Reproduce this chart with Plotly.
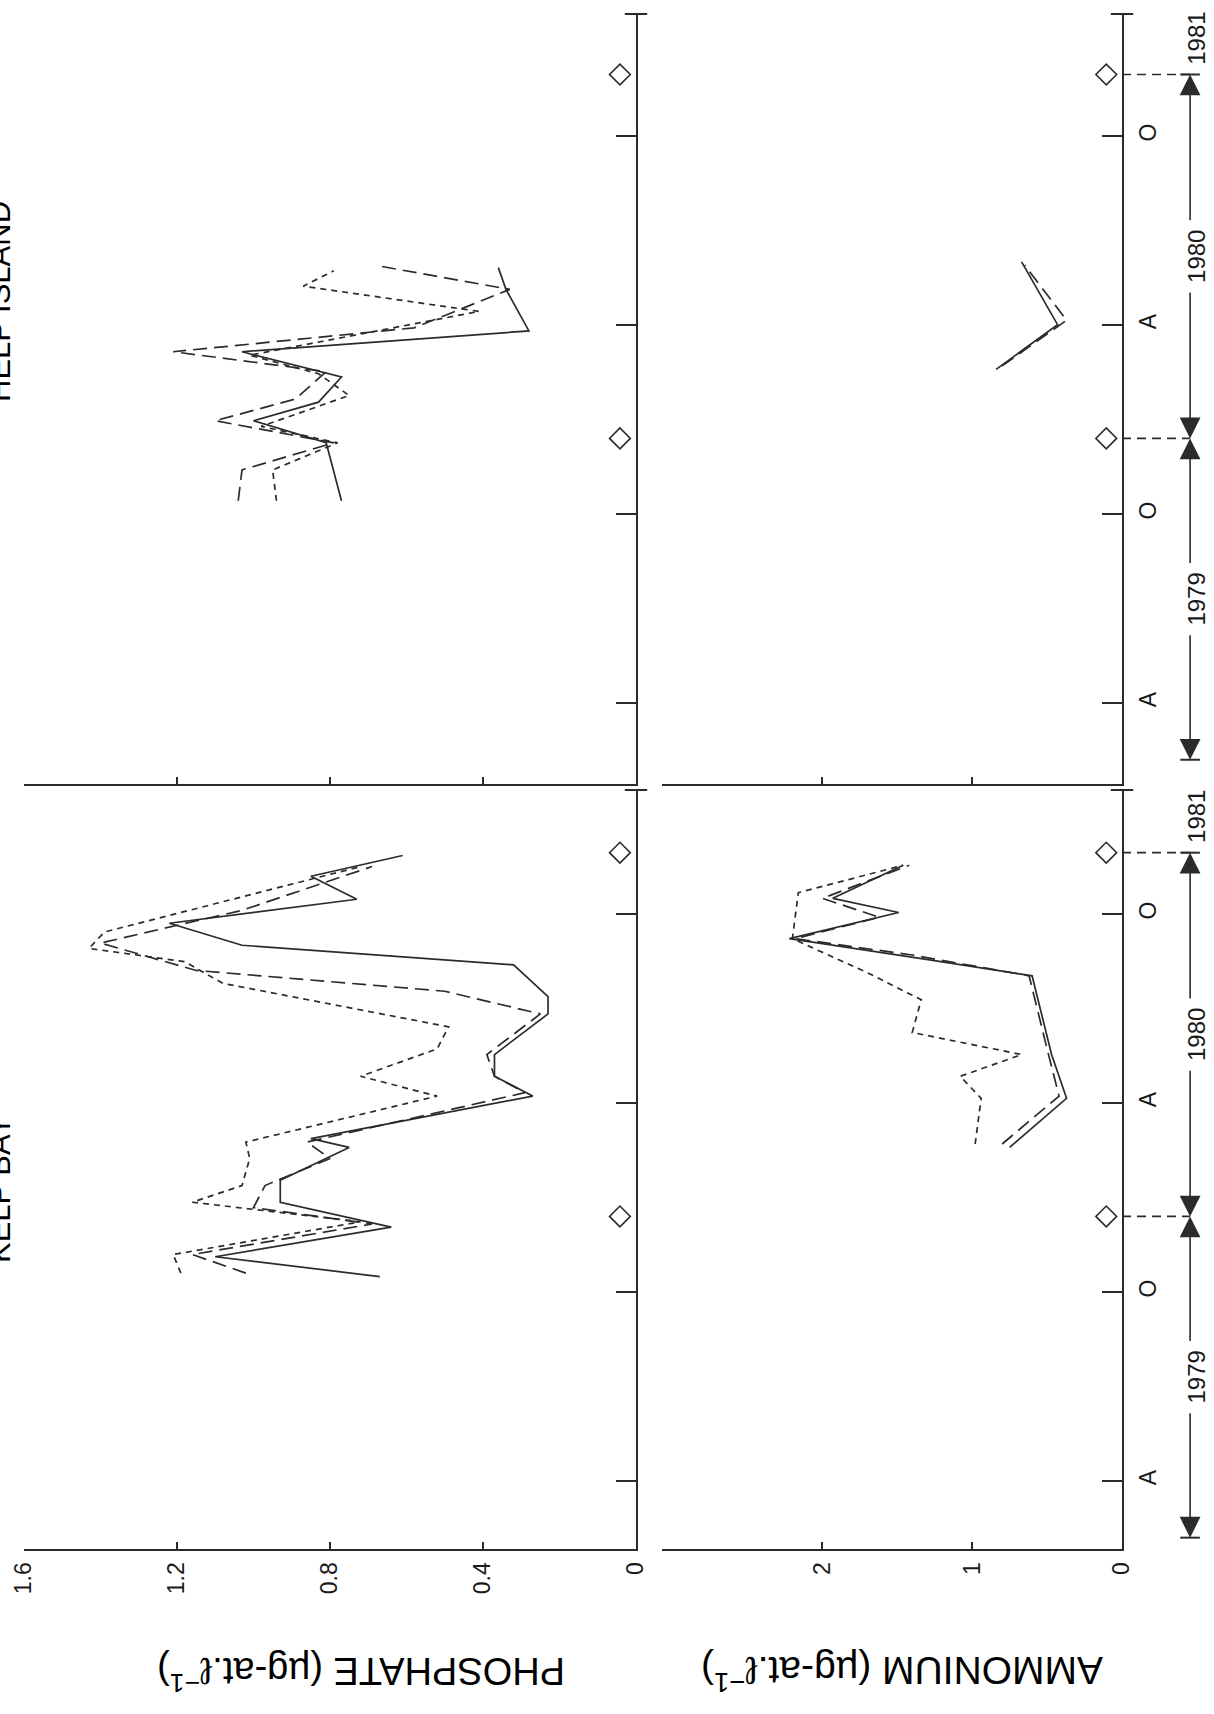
import plotly.graph_objects as go

W, H = 1214, 1714

# ---------------- data (time in months from 1 Jan 1979) ----------------
MONTH_TICKS = [3, 9, 15, 21]
MONTH_LABELS = ["A", "O", "A", "O"]
YEAR_BOUNDS = [1.2, 11.4, 22.95]
YEAR_NAMES = ["1979", "1980", "1981"]
DIAMOND_TIMES = [11.4, 22.95]
PHOS_TICKS = [0, 0.4, 0.8, 1.2, 1.6]
PHOS_TICKTEXT = ["0", "0.4", "0.8", "1.2", "1.6"]
AMM_TICKS = [0, 1, 2]
AMM_TICKTEXT = ["0", "1", "2"]

# upper station - phosphate
hi_p_solid_t = [9.42, 11.26, 11.96, 12.55, 13.35, 14.15, 14.81, 16.13, 16.82]
hi_p_solid_v = [0.77, 0.81, 1.00, 0.83, 0.77, 1.03, 0.28, 0.34, 0.36]
hi_p_long_t = [9.42, 10.40, 11.26, 11.96, 12.65, 13.52, 14.15, 14.91, 16.13, 16.89]
hi_p_long_v = [1.04, 1.03, 0.79, 1.10, 0.89, 0.81, 1.21, 0.58, 0.33, 0.68]
hi_p_short_t = [9.42, 10.40, 11.26, 11.78, 12.76, 13.45, 14.04, 15.43, 16.23, 16.72]
hi_p_short_v = [0.94, 0.95, 0.78, 0.98, 0.75, 0.83, 1.01, 0.41, 0.87, 0.79]

# upper station - ammonium
hi_a_solid_t = [13.59, 15.01, 17.0]
hi_a_solid_v = [0.84, 0.43, 0.67]
hi_a_long_t = [13.70, 15.15, 16.9]
hi_a_long_v = [0.80, 0.37, 0.65]

# KELP BAY - phosphate
kb_p_solid_t = [9.49, 10.12, 11.06, 11.85, 12.55, 13.59, 13.87, 15.22, 15.85, 16.54,
                17.83, 18.38, 19.39, 20.01, 20.71, 21.47, 22.20, 22.86]
kb_p_solid_v = [0.67, 1.10, 0.64, 0.93, 0.93, 0.75, 0.85, 0.27, 0.37, 0.37,
                0.23, 0.23, 0.32, 1.03, 1.22, 0.73, 0.85, 0.61]
kb_p_long_t = [9.60, 10.19, 11.16, 11.68, 12.38, 13.24, 13.76, 15.33, 15.85, 16.54,
               17.83, 18.55, 19.21, 20.08, 21.12, 22.51]
kb_p_long_v = [1.02, 1.16, 0.69, 1.00, 0.97, 0.80, 0.86, 0.29, 0.37, 0.39,
               0.25, 0.50, 1.15, 1.40, 1.03, 0.69]
kb_p_short_t = [9.60, 10.19, 11.23, 11.85, 12.38, 13.24, 13.76, 15.22, 15.85, 16.72,
                17.42, 18.80, 19.49, 19.91, 20.43, 21.05, 22.51]
kb_p_short_v = [1.19, 1.21, 0.72, 1.16, 1.03, 1.01, 1.02, 0.52, 0.72, 0.52,
                0.49, 1.08, 1.18, 1.43, 1.39, 1.19, 0.72]

# KELP BAY - ammonium
kb_a_solid_t = [13.59, 15.15, 16.54, 19.04, 19.60, 20.22, 21.05, 21.50, 22.55]
kb_a_solid_v = [0.75, 0.37, 0.47, 0.60, 1.36, 2.22, 1.49, 1.93, 1.46]
kb_a_long_t = [13.70, 15.22, 16.72, 19.04, 19.70, 20.22, 20.90, 21.50, 22.55]
kb_a_long_v = [0.80, 0.42, 0.50, 0.62, 1.40, 2.18, 1.62, 2.00, 1.42]
kb_a_short_t = [13.70, 15.15, 15.85, 16.54, 17.24, 18.28, 19.14, 20.22, 21.68, 22.55]
kb_a_short_v = [0.98, 0.94, 1.08, 0.67, 1.40, 1.34, 1.70, 2.20, 2.16, 1.46]

STATIONS = ["HELP ISLAND", "KELP BAY"]

# ---------------- styling ----------------
INK = "#2b2b2b"
FONT = "Liberation Sans, Arial, Helvetica, sans-serif"
LW = 1.7
AXW = 2.0
DASH = {"solid": "solid", "long": "14px,7px", "short": "6px,5px"}


def px(xp):
    return xp / W


def py(yp):
    return 1 - yp / H


rows = [
    dict(bottom=784, top=14, trange=[0.43, 24.87], labels=False,
         phos=[(hi_p_solid_t, hi_p_solid_v, "solid"), (hi_p_long_t, hi_p_long_v, "long"),
               (hi_p_short_t, hi_p_short_v, "short")],
         amm=[(hi_a_solid_t, hi_a_solid_v, "solid"), (hi_a_long_t, hi_a_long_v, "long")]),
    dict(bottom=1549, top=790, trange=[0.84, 24.94], labels=True,
         phos=[(kb_p_solid_t, kb_p_solid_v, "solid"), (kb_p_long_t, kb_p_long_v, "long"),
               (kb_p_short_t, kb_p_short_v, "short")],
         amm=[(kb_a_solid_t, kb_a_solid_v, "solid"), (kb_a_long_t, kb_a_long_v, "long"),
              (kb_a_short_t, kb_a_short_v, "short")]),
]

PHOS_DOM = [px(24), px(636)]
AMM_DOM = [px(662), px(1122)]
STRIP_DOM = [px(1122), 1.0]
PHOS_RANGE = [1.6, 0]
AMM_RANGE = [3.07, 0]
ARROW_X = 0.74

fig = go.Figure()
layout = dict(width=W, height=H, margin=dict(l=0, r=0, t=0, b=0, pad=0, autoexpand=False),
              paper_bgcolor="white", plot_bgcolor="rgba(0,0,0,0)",
              showlegend=False, font=dict(family=FONT, color=INK))
annotations = []

tickfont = dict(family=FONT, size=23, color="#1a1a1a")

for ri, row in enumerate(rows):
    base = ri * 5
    ids = [base + k + 1 for k in range(5)]  # phos, amm, strip, phos-overlay, amm-overlay
    nm = lambda i: "" if i == 1 else str(i)
    ydom = [py(row["bottom"]), py(row["top"])]
    for k, (dom, rng, tv, tt, data) in enumerate([
            (PHOS_DOM, PHOS_RANGE, PHOS_TICKS, PHOS_TICKTEXT, row["phos"]),
            (AMM_DOM, AMM_RANGE, AMM_TICKS + [AMM_RANGE[0]], AMM_TICKTEXT + [""], row["amm"])]):
        i = ids[k]
        ov = ids[3 + k]
        layout["xaxis" + nm(i)] = dict(
            domain=dom, range=rng, anchor="y" + nm(i), side="bottom", automargin=False,
            showline=True, linecolor=INK, linewidth=AXW, ticks="inside", ticklen=7,
            tickwidth=AXW, tickcolor=INK, tickvals=tv, ticktext=tt,
            showticklabels=row["labels"], tickangle=-90, tickfont=tickfont,
            ticklabelstandoff=2, showgrid=False, zeroline=False, fixedrange=True)
        layout["xaxis" + nm(ov)] = dict(
            overlaying="x" + nm(i), anchor="y" + nm(i), side="bottom", range=rng,
            automargin=False, showline=False, ticks="outside", ticklen=7, tickwidth=AXW,
            tickcolor=INK, tickvals=tv, showticklabels=False, showgrid=False, zeroline=False)
        layout["yaxis" + nm(i)] = dict(
            domain=ydom, range=row["trange"], anchor="x" + nm(i), side="right",
            automargin=False, showline=True, linecolor=INK, linewidth=AXW, ticks="inside",
            ticklen=20, tickwidth=AXW, tickcolor=INK, tickvals=MONTH_TICKS,
            ticktext=MONTH_LABELS, showticklabels=(k == 1), tickangle=-90,
            tickfont=tickfont, ticklabelstandoff=4, showgrid=False, zeroline=False,
            fixedrange=True)
        for (tt_, vv_, st) in data:
            fig.add_trace(go.Scatter(x=vv_, y=tt_, mode="lines",
                                     line=dict(color=INK, width=LW, dash=DASH[st]),
                                     xaxis="x" + nm(i), yaxis="y" + nm(i),
                                     hoverinfo="skip"))
        # diamonds marking year boundaries
        dx = 0.042 if k == 0 else 0.105
        fig.add_trace(go.Scatter(x=[dx] * len(DIAMOND_TIMES), y=DIAMOND_TIMES, mode="markers",
                                 marker=dict(symbol="diamond-open", size=16, color=INK,
                                             line=dict(color=INK, width=1.6)),
                                 cliponaxis=False, xaxis="x" + nm(i), yaxis="y" + nm(i)))
        # cap at the top of the time axis
        fig.add_trace(go.Scatter(x=[0], y=[row["trange"][1]], mode="markers",
                                 marker=dict(symbol="line-ew-open", size=16, color=INK,
                                             line=dict(color=INK, width=AXW)),
                                 cliponaxis=False, xaxis="x" + nm(i), yaxis="y" + nm(i)))

    # strip with year arrows
    s = ids[2]
    layout["xaxis" + nm(s)] = dict(domain=STRIP_DOM, range=[0, 1], anchor="y" + nm(s),
                                   visible=False, fixedrange=True)
    layout["yaxis" + nm(s)] = dict(domain=ydom, range=row["trange"], anchor="x" + nm(s),
                                   visible=False, fixedrange=True)
    xr, yr = "x" + nm(s), "y" + nm(s)
    for T in DIAMOND_TIMES:
        fig.add_trace(go.Scatter(x=[0, ARROW_X], y=[T, T], mode="lines",
                                 line=dict(color=INK, width=LW, dash="9px,6px"),
                                 xaxis=xr, yaxis=yr, hoverinfo="skip"))
    fig.add_trace(go.Scatter(x=[ARROW_X, ARROW_X], y=[YEAR_BOUNDS[0], YEAR_BOUNDS[-1]],
                             mode="markers",
                             marker=dict(symbol="line-ew-open", size=14, color=INK,
                                         line=dict(color=INK, width=AXW)),
                             cliponaxis=False, xaxis=xr, yaxis=yr))
    gap = 1.1
    for b0, b1, name in zip(YEAR_BOUNDS[:-1], YEAR_BOUNDS[1:], YEAR_NAMES[:-1]):
        mid = (b0 + b1) / 2
        for head, tail in [(b0, mid - gap), (b1, mid + gap)]:
            annotations.append(dict(xref=xr, yref=yr, axref=xr, ayref=yr, x=ARROW_X, y=head,
                                    ax=ARROW_X, ay=tail, text="", showarrow=True,
                                    arrowhead=2, arrowsize=2.6, arrowwidth=1.6,
                                    arrowcolor=INK, standoff=0, startstandoff=0))
        annotations.append(dict(xref=xr, yref=yr, x=ARROW_X + 0.07, y=mid, text=name,
                                textangle=-90, showarrow=False,
                                font=dict(family=FONT, size=24, color="#1a1a1a")))
    annotations.append(dict(xref=xr, yref=yr, x=ARROW_X + 0.07, y=YEAR_BOUNDS[-1] + 1.15,
                            text=YEAR_NAMES[-1], textangle=-90, showarrow=False,
                            font=dict(family=FONT, size=24, color="#1a1a1a")))

# station titles (cut at the left edge, as in the printed page)
for name, yc in zip(STATIONS, [302, 1190]):
    annotations.append(dict(xref="paper", yref="paper", x=px(-1), y=py(yc), xanchor="center",
                            yanchor="middle", text=name, textangle=-90, showarrow=False,
                            font=dict(family=FONT, size=31, color="black")))

# axis titles (printed upside down)
annotations.append(dict(xref="paper", yref="paper", x=px(361), y=py(1674), xanchor="center",
                        yanchor="middle", text="PHOSPHATE (µg-at.ℓ<sup>−1</sup>)",
                        textangle=180, showarrow=False,
                        font=dict(family=FONT, size=38, color="black")))
annotations.append(dict(xref="paper", yref="paper", x=px(902), y=py(1674), xanchor="center",
                        yanchor="middle", text="AMMONIUM (µg-at.ℓ<sup>−1</sup>)",
                        textangle=180, showarrow=False,
                        font=dict(family=FONT, size=39, color="black")))

layout["annotations"] = annotations
fig.update_layout(**layout)
fig.write_html("out.html", config={"displayModeBar": False, "staticPlot": True},
               post_script="document.body.style.margin='0px';document.body.style.overflow='hidden';")
